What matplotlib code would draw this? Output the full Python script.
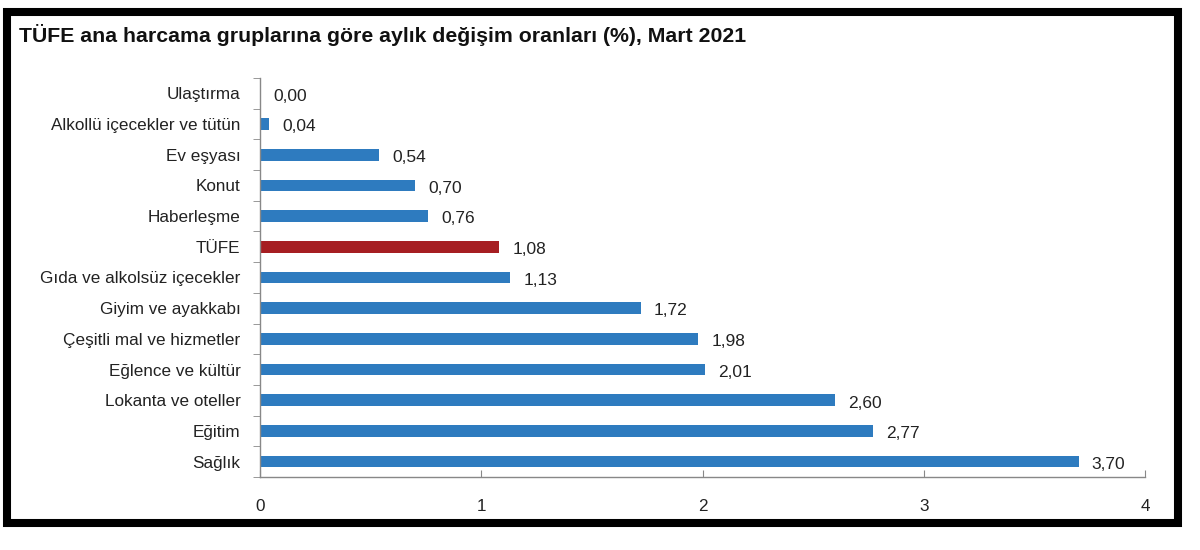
import matplotlib
matplotlib.use("Agg")
import matplotlib.pyplot as plt
from matplotlib.patches import Rectangle
import numpy as np

plt.rcParams['font.family'] = ['Liberation Sans', 'DejaVu Sans']

categories = ["Ulaştırma", "Alkollü içecekler ve tütün", "Ev eşyası", "Konut",
              "Haberleşme", "TÜFE", "Gıda ve alkolsüz içecekler", "Giyim ve ayakkabı",
              "Çeşitli mal ve hizmetler", "Eğlence ve kültür", "Lokanta ve oteller",
              "Eğitim", "Sağlık"]
values = [0.00, 0.04, 0.54, 0.70, 0.76, 1.08, 1.13, 1.72, 1.98, 2.01, 2.60, 2.77, 3.70]
labels = ["0,00", "0,04", "0,54", "0,70", "0,76", "1,08", "1,13", "1,72", "1,98",
          "2,01", "2,60", "2,77", "3,70"]
x_ticks = [0, 1, 2, 3, 4]

blue = "#2E7BBF"
red = "#A61E22"
colors = [red if c == "TÜFE" else blue for c in categories]

fig = plt.figure(figsize=(12, 5.5), dpi=100)
fig.patch.set_facecolor("white")

# thick black frame
fig.patches.append(Rectangle((7/1200, 1 - 523/550), 1171/1200, 511/550,
                             transform=fig.transFigure, fill=False,
                             edgecolor="black", linewidth=5.8))

fig.text(19/1200, 1 - 35/550, "TÜFE ana harcama gruplarına göre aylık değişim oranları (%), Mart 2021",
         fontsize=15.3, fontweight="bold", va="center", ha="left", color="#111111")

ax = fig.add_axes([260/1200, 1 - 477/550, 885/1200, 399/550])
y = np.arange(len(categories))
ax.barh(y, values, height=0.38, color=colors)
ax.set_ylim(len(categories) - 0.5, -0.5)
ax.set_xlim(0, 4)

for yi, v, lab in zip(y, values, labels):
    ax.annotate(lab, (v, yi), xytext=(9.5, -2), textcoords="offset points",
                va="center", ha="left", fontsize=12.5, color="#222222")

ax.set_yticks(y)
ax.set_yticklabels(categories, fontsize=12.3, color="#222222")
ax.set_yticks(np.arange(-0.5, len(categories), 1), minor=True)
ax.tick_params(axis="y", which="major", length=0, pad=14)
ax.tick_params(axis="y", which="minor", length=5, color="#888888", direction="out")
ax.set_xticks(x_ticks)
ax.set_xticklabels([str(t) for t in x_ticks], fontsize=12.3, color="#222222")
ax.tick_params(axis="x", length=5, color="#888888", direction="in", pad=16)

for s in ["top", "right"]:
    ax.spines[s].set_visible(False)
for s in ["left", "bottom"]:
    ax.spines[s].set_color("#888888")
    ax.spines[s].set_linewidth(1)

fig.savefig("out.png", dpi=100, facecolor="white")
